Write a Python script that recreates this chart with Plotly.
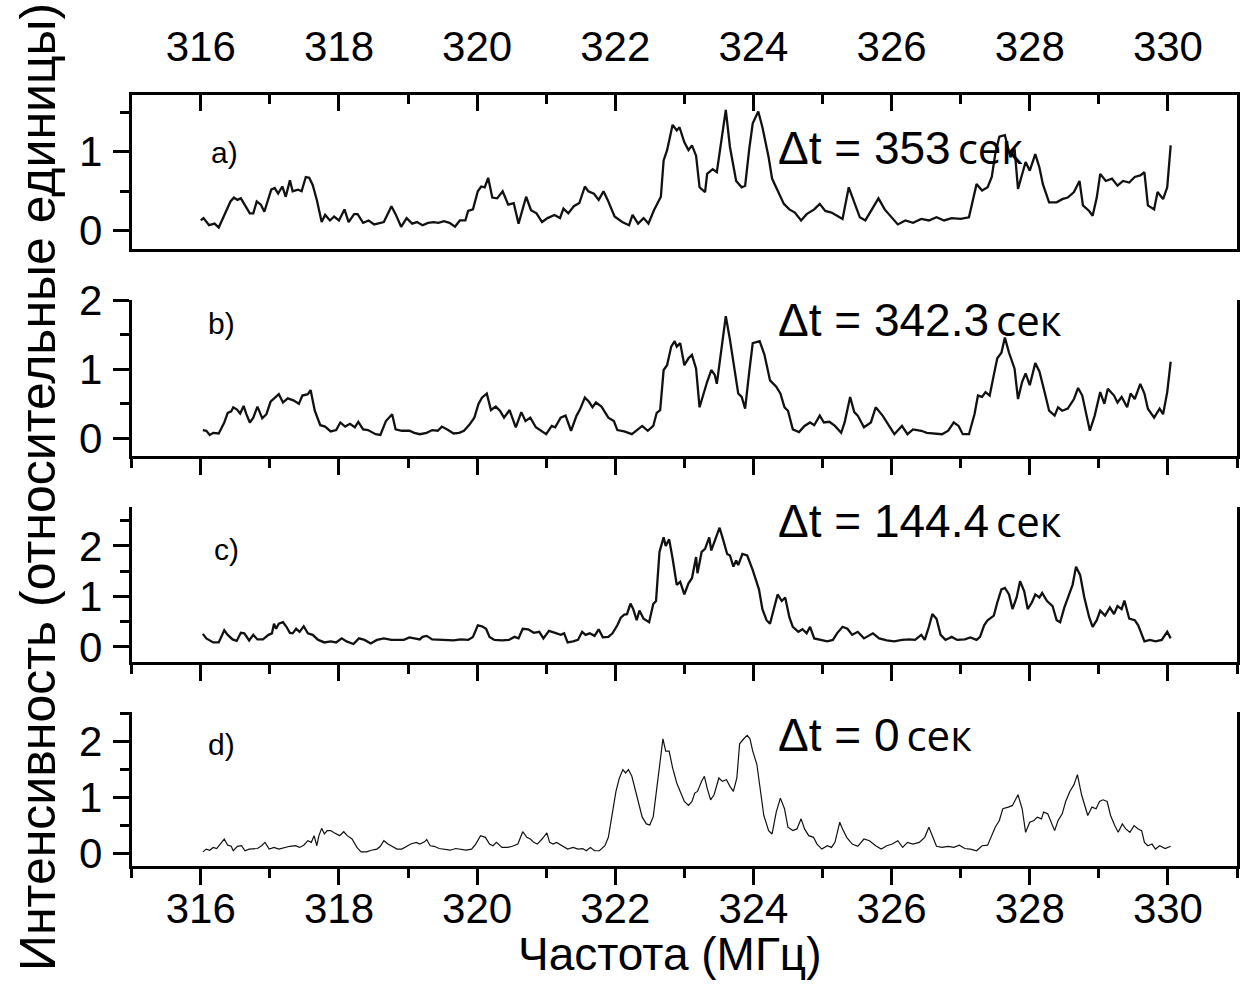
import plotly.graph_objects as go

# ---------------- data ----------------
freq_a = [316.0, 316.04, 316.12, 316.2, 316.26, 316.35, 316.43, 316.48, 316.53, 316.58,
          316.63, 316.71, 316.76, 316.81, 316.87, 316.92, 317.02, 317.07, 317.12, 317.18,
          317.23, 317.29, 317.33, 317.41, 317.46, 317.52, 317.57, 317.62, 317.68, 317.75,
          317.8, 317.87, 317.93, 318.0, 318.08, 318.14, 318.22, 318.27, 318.35, 318.43,
          318.51, 318.59, 318.65, 318.76, 318.82, 318.9, 318.98, 319.06, 319.13, 319.21,
          319.29, 319.37, 319.44, 319.52, 319.6, 319.68, 319.75, 319.83, 319.87, 319.94,
          320.01, 320.06, 320.11, 320.16, 320.22, 320.29, 320.37, 320.45, 320.53, 320.6,
          320.71, 320.78, 320.86, 320.94, 321.02, 321.12, 321.2, 321.25, 321.32, 321.4,
          321.48, 321.56, 321.61, 321.69, 321.76, 321.83, 321.89, 321.99, 322.1, 322.2,
          322.25, 322.33, 322.41, 322.48, 322.56, 322.66, 322.7, 322.75, 322.83, 322.89,
          322.93, 323.0, 323.06, 323.11, 323.17, 323.22, 323.3, 323.33, 323.41, 323.47,
          323.52, 323.6, 323.66, 323.75, 323.83, 323.88, 323.94, 323.99, 324.07, 324.13,
          324.22, 324.27, 324.35, 324.44, 324.52, 324.6, 324.69, 324.77, 324.88, 324.96,
          325.04, 325.13, 325.21, 325.29, 325.38, 325.46, 325.54, 325.62, 325.71, 325.81,
          325.9, 325.98, 326.09, 326.2, 326.31, 326.43, 326.54, 326.65, 326.76, 326.87,
          327.0, 327.12, 327.23, 327.31, 327.39, 327.45, 327.5, 327.56, 327.64, 327.72,
          327.78, 327.83, 327.89, 327.94, 328.0, 328.08, 328.14, 328.19, 328.28, 328.39,
          328.47, 328.55, 328.64, 328.72, 328.77, 328.86, 328.91, 328.97, 329.02, 329.1,
          329.19, 329.27, 329.35, 329.44, 329.52, 329.6, 329.66, 329.71, 329.8, 329.85,
          329.93, 329.99, 330.04]
int_a = [0.13, 0.16, 0.07, 0.09, 0.04, 0.22, 0.37, 0.42, 0.39, 0.41,
         0.33, 0.22, 0.22, 0.37, 0.33, 0.24, 0.52, 0.54, 0.47, 0.56,
         0.43, 0.64, 0.50, 0.52, 0.50, 0.68, 0.67, 0.58, 0.39, 0.11,
         0.20, 0.13, 0.18, 0.13, 0.27, 0.11, 0.21, 0.21, 0.10, 0.13,
         0.08, 0.10, 0.11, 0.31, 0.21, 0.05, 0.16, 0.09, 0.11, 0.07,
         0.10, 0.11, 0.10, 0.12, 0.10, 0.05, 0.13, 0.13, 0.25, 0.27,
         0.50, 0.56, 0.55, 0.67, 0.42, 0.41, 0.50, 0.33, 0.35, 0.09,
         0.43, 0.26, 0.22, 0.11, 0.16, 0.20, 0.16, 0.28, 0.22, 0.31,
         0.35, 0.56, 0.50, 0.47, 0.39, 0.50, 0.39, 0.18, 0.11, 0.07,
         0.20, 0.09, 0.16, 0.09, 0.26, 0.43, 0.89, 1.02, 1.34, 1.27,
         1.31, 1.12, 1.02, 1.08, 0.95, 0.55, 0.49, 0.72, 0.78, 0.74,
         1.06, 1.53, 1.06, 0.63, 0.55, 0.57, 1.04, 1.36, 1.51, 1.31,
         0.93, 0.66, 0.51, 0.34, 0.27, 0.23, 0.13, 0.21, 0.27, 0.34,
         0.25, 0.23, 0.19, 0.15, 0.55, 0.36, 0.17, 0.13, 0.27, 0.41,
         0.27, 0.19, 0.08, 0.13, 0.10, 0.15, 0.13, 0.17, 0.13, 0.16,
         0.15, 0.17, 0.59, 0.51, 0.55, 0.68, 0.97, 1.19, 1.21, 0.93,
         1.04, 0.53, 0.72, 0.87, 0.76, 0.97, 0.80, 0.59, 0.36, 0.36,
         0.40, 0.42, 0.49, 0.63, 0.32, 0.25, 0.19, 0.42, 0.72, 0.63,
         0.66, 0.57, 0.63, 0.61, 0.68, 0.70, 0.74, 0.32, 0.27, 0.49,
         0.40, 0.55, 1.08]

freq_b = [316.03, 316.08, 316.13, 316.18, 316.26, 316.34, 316.39, 316.44, 316.47, 316.52,
          316.57, 316.62, 316.66, 316.71, 316.76, 316.82, 316.89, 316.95, 317.01, 317.06,
          317.13, 317.19, 317.26, 317.34, 317.42, 317.47, 317.55, 317.59, 317.65, 317.73,
          317.8, 317.88, 317.96, 318.02, 318.09, 318.16, 318.23, 318.28, 318.35, 318.42,
          318.53, 318.6, 318.68, 318.77, 318.82, 318.91, 319.02, 319.09, 319.17, 319.27,
          319.35, 319.43, 319.49, 319.58, 319.66, 319.74, 319.81, 319.89, 319.96, 320.02,
          320.07, 320.14, 320.2, 320.27, 320.33, 320.39, 320.47, 320.56, 320.64, 320.7,
          320.77, 320.85, 320.92, 321.0, 321.08, 321.13, 321.21, 321.28, 321.36, 321.44,
          321.49, 321.56, 321.62, 321.67, 321.72, 321.8, 321.9, 321.98, 322.03, 322.13,
          322.24, 322.31, 322.39, 322.47, 322.55, 322.6, 322.65, 322.7, 322.75, 322.81,
          322.86, 322.89, 322.94, 323.0, 323.06, 323.11, 323.17, 323.22, 323.28, 323.33,
          323.39, 323.44, 323.47, 323.52, 323.6, 323.66, 323.72, 323.78, 323.83, 323.88,
          323.94, 323.99, 324.09, 324.16, 324.24, 324.33, 324.39, 324.45, 324.5, 324.57,
          324.66, 324.74, 324.82, 324.88, 324.96, 325.02, 325.1, 325.18, 325.27, 325.32,
          325.4, 325.46, 325.51, 325.6, 325.7, 325.77, 325.87, 325.96, 326.04, 326.15,
          326.23, 326.31, 326.43, 326.51, 326.62, 326.73, 326.82, 326.9, 326.97, 327.03,
          327.12, 327.2, 327.25, 327.31, 327.36, 327.42, 327.48, 327.53, 327.59, 327.64,
          327.7, 327.78, 327.83, 327.89, 327.94, 328.0, 328.08, 328.14, 328.22, 328.28,
          328.36, 328.41, 328.47, 328.55, 328.64, 328.7, 328.76, 328.83, 328.87, 328.94,
          329.02, 329.08, 329.13, 329.22, 329.27, 329.33, 329.41, 329.46, 329.52, 329.6,
          329.66, 329.71, 329.8, 329.88, 329.93, 329.99, 330.04]
int_b = [0.12, 0.11, 0.05, 0.08, 0.07, 0.23, 0.37, 0.39, 0.45, 0.42,
         0.36, 0.47, 0.35, 0.23, 0.30, 0.46, 0.29, 0.35, 0.53, 0.58,
         0.64, 0.52, 0.58, 0.55, 0.50, 0.62, 0.64, 0.70, 0.40, 0.19,
         0.17, 0.10, 0.12, 0.23, 0.17, 0.21, 0.16, 0.24, 0.13, 0.12,
         0.06, 0.05, 0.25, 0.35, 0.13, 0.11, 0.11, 0.08, 0.06, 0.08,
         0.12, 0.11, 0.17, 0.12, 0.07, 0.08, 0.11, 0.20, 0.30, 0.50,
         0.59, 0.65, 0.41, 0.46, 0.40, 0.30, 0.41, 0.16, 0.38, 0.25,
         0.30, 0.16, 0.11, 0.06, 0.18, 0.16, 0.30, 0.33, 0.11, 0.33,
         0.42, 0.59, 0.53, 0.45, 0.52, 0.46, 0.30, 0.25, 0.12, 0.10,
         0.06, 0.11, 0.18, 0.11, 0.18, 0.37, 0.41, 0.99, 1.06, 1.33,
         1.41, 1.33, 1.38, 1.06, 1.16, 1.21, 1.01, 0.45, 0.67, 0.82,
         0.99, 0.92, 0.79, 1.16, 1.77, 1.43, 1.01, 0.65, 0.60, 0.43,
         0.97, 1.38, 1.41, 1.21, 0.84, 0.75, 0.65, 0.45, 0.40, 0.13,
         0.09, 0.18, 0.23, 0.19, 0.33, 0.23, 0.24, 0.18, 0.08, 0.23,
         0.60, 0.38, 0.33, 0.16, 0.23, 0.45, 0.33, 0.18, 0.06, 0.18,
         0.06, 0.13, 0.11, 0.08, 0.07, 0.06, 0.11, 0.23, 0.18, 0.06,
         0.06, 0.35, 0.62, 0.60, 0.67, 0.62, 0.92, 1.16, 1.24, 1.46,
         1.24, 1.01, 0.57, 0.82, 0.94, 0.77, 1.09, 0.97, 0.65, 0.40,
         0.33, 0.45, 0.40, 0.43, 0.57, 0.73, 0.62, 0.30, 0.11, 0.33,
         0.67, 0.50, 0.72, 0.62, 0.52, 0.60, 0.45, 0.65, 0.57, 0.79,
         0.65, 0.43, 0.30, 0.43, 0.35, 0.67, 1.11]

freq_c = [316.03, 316.08, 316.18, 316.26, 316.34, 316.39, 316.46, 316.52, 316.58, 316.63,
          316.7, 316.76, 316.82, 316.9, 316.98, 317.03, 317.06, 317.09, 317.13, 317.19,
          317.24, 317.29, 317.33, 317.38, 317.43, 317.49, 317.55, 317.62, 317.7, 317.79,
          317.88, 317.96, 318.04, 318.11, 318.21, 318.29, 318.37, 318.46, 318.55, 318.65,
          318.76, 318.84, 318.94, 319.02, 319.09, 319.17, 319.21, 319.27, 319.35, 319.45,
          319.56, 319.66, 319.76, 319.87, 319.94, 320.01, 320.07, 320.13, 320.18, 320.25,
          320.36, 320.46, 320.54, 320.6, 320.66, 320.74, 320.82, 320.9, 320.96, 321.04,
          321.13, 321.21, 321.26, 321.31, 321.39, 321.46, 321.52, 321.57, 321.63, 321.7,
          321.76, 321.82, 321.9, 321.96, 322.03, 322.08, 322.13, 322.17, 322.22, 322.26,
          322.31, 322.35, 322.41, 322.49, 322.55, 322.59, 322.64, 322.7, 322.73, 322.78,
          322.83, 322.89, 322.94, 323.0, 323.06, 323.11, 323.17, 323.19, 323.25, 323.3,
          323.36, 323.39, 323.44, 323.51, 323.56, 323.62, 323.66, 323.71, 323.75, 323.78,
          323.84, 323.91, 323.99, 324.08, 324.13, 324.19, 324.24, 324.3, 324.35, 324.41,
          324.46, 324.52, 324.57, 324.65, 324.71, 324.77, 324.82, 324.88, 324.96, 325.07,
          325.15, 325.21, 325.29, 325.36, 325.43, 325.51, 325.6, 325.68, 325.73, 325.82,
          325.93, 326.04, 326.15, 326.26, 326.34, 326.43, 326.48, 326.54, 326.59, 326.65,
          326.71, 326.78, 326.87, 326.95, 327.06, 327.14, 327.23, 327.28, 327.34, 327.39,
          327.48, 327.53, 327.59, 327.64, 327.7, 327.75, 327.81, 327.86, 327.92, 327.97,
          328.03, 328.08, 328.14, 328.18, 328.25, 328.33, 328.39, 328.44, 328.5, 328.57,
          328.62, 328.67, 328.73, 328.79, 328.86, 328.91, 328.97, 329.02, 329.09, 329.16,
          329.22, 329.27, 329.33, 329.37, 329.44, 329.52, 329.57, 329.66, 329.74, 329.82,
          329.91, 329.99, 330.04]
int_c = [0.26, 0.17, 0.09, 0.09, 0.33, 0.24, 0.15, 0.12, 0.28, 0.27,
         0.13, 0.24, 0.15, 0.15, 0.24, 0.27, 0.46, 0.36, 0.46, 0.49,
         0.40, 0.28, 0.27, 0.36, 0.30, 0.41, 0.27, 0.24, 0.14, 0.09,
         0.11, 0.09, 0.17, 0.11, 0.06, 0.17, 0.14, 0.07, 0.14, 0.17,
         0.14, 0.14, 0.14, 0.19, 0.17, 0.15, 0.20, 0.22, 0.15, 0.14,
         0.13, 0.13, 0.15, 0.14, 0.20, 0.43, 0.41, 0.36, 0.20, 0.14,
         0.13, 0.14, 0.20, 0.17, 0.36, 0.35, 0.28, 0.30, 0.17, 0.32,
         0.28, 0.24, 0.27, 0.09, 0.11, 0.14, 0.30, 0.24, 0.27, 0.22,
         0.35, 0.19, 0.20, 0.27, 0.43, 0.58, 0.64, 0.65, 0.86, 0.75,
         0.53, 0.72, 0.56, 0.49, 0.85, 0.91, 1.88, 2.17, 2.00, 2.13,
         1.75, 1.23, 1.29, 1.04, 1.26, 1.36, 1.78, 1.46, 1.88, 1.94,
         2.17, 1.91, 2.10, 2.36, 2.13, 1.84, 1.81, 1.59, 1.71, 1.62,
         1.84, 1.81, 1.52, 1.14, 0.75, 0.53, 0.46, 0.78, 1.04, 0.91,
         0.98, 0.59, 0.40, 0.30, 0.35, 0.27, 0.40, 0.17, 0.14, 0.11,
         0.14, 0.27, 0.40, 0.36, 0.24, 0.30, 0.17, 0.24, 0.27, 0.17,
         0.13, 0.11, 0.14, 0.15, 0.14, 0.24, 0.14, 0.40, 0.65, 0.56,
         0.24, 0.14, 0.20, 0.14, 0.15, 0.19, 0.14, 0.20, 0.43, 0.53,
         0.62, 0.88, 1.14, 1.17, 1.04, 0.75, 0.98, 1.30, 1.10, 0.75,
         0.88, 1.04, 0.98, 1.07, 0.91, 0.81, 0.53, 0.49, 0.78, 1.04,
         1.23, 1.59, 1.42, 0.98, 0.59, 0.40, 0.53, 0.72, 0.62, 0.78,
         0.65, 0.81, 0.75, 0.92, 0.56, 0.53, 0.43, 0.11, 0.14, 0.11,
         0.14, 0.30, 0.17]

freq_d = [316.03, 316.08, 316.13, 316.18, 316.23, 316.28, 316.34, 316.39, 316.44, 316.47,
          316.53, 316.59, 316.64, 316.7, 316.75, 316.82, 316.88, 316.93, 316.99, 317.06,
          317.13, 317.21, 317.29, 317.37, 317.43, 317.49, 317.55, 317.6, 317.64, 317.68,
          317.71, 317.75, 317.79, 317.83, 317.88, 317.93, 318.01, 318.07, 318.12, 318.19,
          318.26, 318.32, 318.4, 318.47, 318.55, 318.6, 318.65, 318.71, 318.77, 318.84,
          318.91, 318.96, 319.04, 319.12, 319.17, 319.24, 319.27, 319.32, 319.38, 319.45,
          319.53, 319.61, 319.69, 319.76, 319.84, 319.92, 319.98, 320.05, 320.12, 320.18,
          320.23, 320.28, 320.36, 320.44, 320.51, 320.59, 320.66, 320.72, 320.77, 320.82,
          320.87, 320.94, 321.01, 321.05, 321.1, 321.15, 321.23, 321.31, 321.39, 321.46,
          321.53, 321.58, 321.64, 321.7, 321.77, 321.85, 321.9, 321.95, 322.01, 322.06,
          322.11, 322.15, 322.19, 322.24, 322.29, 322.34, 322.39, 322.45, 322.5, 322.55,
          322.6, 322.65, 322.69, 322.73, 322.78, 322.83, 322.89, 322.94, 323.0, 323.06,
          323.11, 323.15, 323.19, 323.25, 323.29, 323.33, 323.38, 323.43, 323.5, 323.55,
          323.61, 323.66, 323.71, 323.76, 323.8, 323.86, 323.91, 323.95, 323.99, 324.05,
          324.1, 324.15, 324.22, 324.27, 324.33, 324.39, 324.45, 324.5, 324.57, 324.63,
          324.69, 324.74, 324.8, 324.87, 324.92, 324.99, 325.07, 325.13, 325.18, 325.25,
          325.29, 325.35, 325.43, 325.51, 325.6, 325.68, 325.77, 325.85, 325.93, 326.01,
          326.09, 326.16, 326.23, 326.31, 326.4, 326.48, 326.54, 326.58, 326.65, 326.73,
          326.82, 326.9, 326.98, 327.06, 327.14, 327.23, 327.31, 327.39, 327.45, 327.5,
          327.56, 327.61, 327.69, 327.75, 327.83, 327.89, 327.94, 328.0, 328.06, 328.11,
          328.17, 328.2, 328.26, 328.3, 328.36, 328.41, 328.47, 328.52, 328.58, 328.64,
          328.69, 328.75, 328.78, 328.84, 328.9, 328.96, 329.01, 329.06, 329.12, 329.17,
          329.23, 329.28, 329.34, 329.39, 329.45, 329.51, 329.57, 329.62, 329.66, 329.71,
          329.77, 329.82, 329.88, 329.96, 330.04]
int_d = [0.02, 0.07, 0.05, 0.10, 0.08, 0.16, 0.25, 0.14, 0.12, 0.04,
         0.12, 0.13, 0.04, 0.07, 0.07, 0.08, 0.13, 0.19, 0.07, 0.10,
         0.07, 0.10, 0.12, 0.13, 0.10, 0.14, 0.22, 0.19, 0.31, 0.13,
         0.31, 0.44, 0.34, 0.40, 0.40, 0.36, 0.31, 0.38, 0.31, 0.25,
         0.10, 0.02, 0.02, 0.05, 0.07, 0.12, 0.22, 0.16, 0.12, 0.07,
         0.07, 0.10, 0.16, 0.19, 0.16, 0.20, 0.24, 0.13, 0.12, 0.08,
         0.07, 0.05, 0.08, 0.07, 0.05, 0.07, 0.16, 0.31, 0.28, 0.16,
         0.13, 0.19, 0.10, 0.10, 0.12, 0.16, 0.38, 0.28, 0.25, 0.19,
         0.16, 0.25, 0.36, 0.19, 0.16, 0.19, 0.13, 0.07, 0.10, 0.07,
         0.08, 0.04, 0.10, 0.04, 0.04, 0.13, 0.28, 0.67, 1.10, 1.34,
         1.49, 1.43, 1.49, 1.37, 1.13, 0.85, 0.64, 0.52, 0.50, 0.65,
         1.15, 1.70, 2.04, 1.82, 1.82, 1.52, 1.25, 1.10, 0.92, 0.85,
         0.92, 1.07, 1.10, 1.28, 1.37, 1.16, 0.95, 1.04, 1.34, 1.28,
         1.31, 1.19, 1.10, 1.34, 1.95, 2.04, 2.10, 2.04, 1.82, 1.58,
         1.16, 0.67, 0.40, 0.34, 0.73, 0.98, 0.79, 0.46, 0.40, 0.43,
         0.61, 0.43, 0.31, 0.28, 0.16, 0.07, 0.13, 0.10, 0.19, 0.55,
         0.43, 0.28, 0.16, 0.12, 0.25, 0.22, 0.13, 0.07, 0.13, 0.16,
         0.22, 0.10, 0.19, 0.16, 0.19, 0.28, 0.46, 0.34, 0.12, 0.10,
         0.12, 0.10, 0.14, 0.08, 0.07, 0.04, 0.13, 0.14, 0.31, 0.46,
         0.58, 0.79, 0.82, 0.85, 1.04, 0.79, 0.37, 0.55, 0.58, 0.64,
         0.61, 0.73, 0.70, 0.58, 0.40, 0.58, 0.70, 0.92, 1.10, 1.22,
         1.40, 1.04, 0.92, 0.67, 0.82, 0.79, 0.92, 0.95, 0.92, 0.67,
         0.49, 0.37, 0.52, 0.43, 0.37, 0.49, 0.43, 0.40, 0.19, 0.13,
         0.16, 0.07, 0.13, 0.08, 0.12]

panel_labels = ["a)", "b)", "c)", "d)"]
delay_values = ["353", "342.3", "144.4", "0"]
x_ticks = [316, 318, 320, 322, 324, 326, 328, 330]

assert len(freq_a) == len(int_a)
assert len(freq_b) == len(int_b)
assert len(freq_c) == len(int_c)
assert len(freq_d) == len(int_d)

W, H = 1243, 985


def px(xp):
    return xp / W


def py(yp):
    return 1 - yp / H


fig = go.Figure()
series = [(freq_a, int_a, 2.3), (freq_b, int_b, 2.3), (freq_c, int_c, 2.3), (freq_d, int_d, 1.2)]
for i, (fx, fy, lw) in enumerate(series):
    sfx = "" if i == 0 else str(i + 1)
    fig.add_trace(go.Scatter(x=fx, y=fy, mode="lines",
                             line=dict(color="#111111", width=lw),
                             xaxis="x" + sfx, yaxis="y" + sfx, showlegend=False,
                             hoverinfo="skip"))

xdom = [px(131.7), px(1237)]
ydoms = [(95, 249.3), (300, 456), (507, 662), (712, 866)]
yranges = [[-0.235, 1.718], [-0.256, 2.005], [-0.297, 2.77], [-0.232, 2.518]]

tick_font = dict(family="Liberation Sans, Arial", size=42, color="black")
ytick_font = dict(family="Liberation Sans, Arial", size=42, color="black")

layout = dict(width=W, height=H, margin=dict(l=0, r=0, t=0, b=0, autoexpand=False),
              paper_bgcolor="white", plot_bgcolor="white", showlegend=False)

for i in range(4):
    sfx = "" if i == 0 else str(i + 1)
    top, bot = ydoms[i]
    xa = dict(domain=xdom, anchor="y" + sfx, range=[315, 331], automargin=False,
              tickmode="array", tickvals=x_ticks, ticktext=[str(t) for t in x_ticks],
              showline=True, linecolor="black", linewidth=3,
              tickcolor="black", tickwidth=3, ticklen=16,
              showgrid=False, zeroline=False, tickfont=tick_font,
              minor=dict(dtick=1, tick0=315, ticklen=9, tickwidth=3, tickcolor="black"))
    if i == 0:
        xa.update(side="top", ticks="inside", mirror=True, showticklabels=True,
                  ticklabelstandoff=14)
        xa["minor"]["ticks"] = "inside"
    else:
        xa.update(side="bottom", ticks="outside", mirror=False,
                  showticklabels=(i == 3), ticklabelstandoff=-12,
                  matches="x")
        xa["minor"]["ticks"] = "outside"
    ya = dict(domain=[py(bot), py(top)], anchor="x" + sfx, range=yranges[i], automargin=False,
              tickmode="linear", tick0=0, dtick=1,
              showline=True, linecolor="black", linewidth=3, mirror=True,
              ticks="outside", tickcolor="black", tickwidth=3, ticklen=16,
              showgrid=False, zeroline=False, tickfont=ytick_font,
              ticklabelstandoff=2,
              minor=dict(dtick=0.5, tick0=0, ticks="outside", ticklen=9,
                         tickwidth=3, tickcolor="black"))
    layout["xaxis" + sfx] = xa
    layout["yaxis" + sfx] = ya

fig.update_layout(**layout)

label_pos = [(209, 152), (206, 323), (212, 549), (206, 744)]
delta_pos = [(776, 148), (776, 319), (776, 520), (776, 734)]
for i in range(4):
    lx, ly = label_pos[i]
    fig.add_annotation(text=panel_labels[i], xref="paper", yref="paper",
                       x=px(lx), y=py(ly), xanchor="left", yanchor="middle",
                       showarrow=False,
                       font=dict(family="Liberation Sans, Arial", size=30, color="black"))
    dx, dy = delta_pos[i]
    fig.add_annotation(
        text="\u0394t = " + delay_values[i]
             + "<span style='font-family:Open Sans;font-size:42px'>\u2009сек</span>",
        xref="paper", yref="paper", x=px(dx), y=py(dy),
        xanchor="left", yanchor="middle", showarrow=False,
        font=dict(family="Liberation Sans, Arial", size=46, color="black"))

fig.add_annotation(text="Интенсивность (относительные единицы)", xref="paper", yref="paper",
                   x=px(38), y=py(487), xanchor="center", yanchor="middle",
                   textangle=-90, showarrow=False,
                   font=dict(family="Liberation Sans, Arial", size=50, color="black"))
fig.add_annotation(text="Частота (МГц)", xref="paper", yref="paper",
                   x=px(670), y=py(954), xanchor="center", yanchor="middle",
                   showarrow=False,
                   font=dict(family="Liberation Sans, Arial", size=46, color="black"))

fig.write_html("out.html",
               config={"displayModeBar": False},
               post_script="document.body.style.margin='0';document.body.style.overflow='hidden';")
